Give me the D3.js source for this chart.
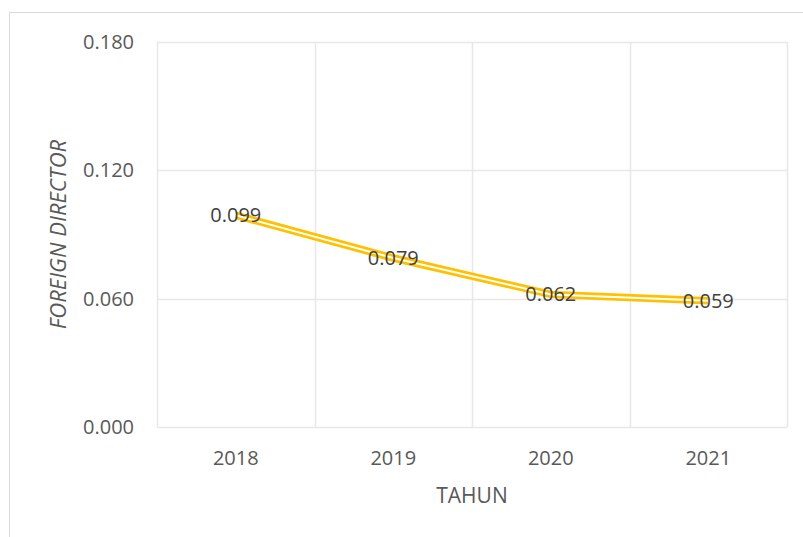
<!DOCTYPE html>
<html>
<head>
<meta charset="utf-8">
<script src="https://cdn.jsdelivr.net/npm/d3@7"></script>
<style>
  body { margin: 0; background: #fff; }
  text { font-family: "Open Sans", "Noto Sans", sans-serif; fill: #595959; }
</style>
</head>
<body>
<svg id="chart"></svg>
<script>
const years = ["2018", "2019", "2020", "2021"];
const values = [0.099, 0.079, 0.062, 0.059];
const labels = ["0.099", "0.079", "0.062", "0.059"];
const yTicks = [0, 0.06, 0.12, 0.18];

const width = 803, height = 537;
const margin = { top: 42, right: 16, bottom: 110, left: 157 };

const svg = d3.select("#chart")
  .attr("width", width)
  .attr("height", height);

// chart area border
svg.append("rect")
  .attr("x", 9.5).attr("y", 12.5)
  .attr("width", width).attr("height", height)
  .attr("fill", "#fff")
  .attr("stroke", "#d9d9d9");

const x = d3.scaleBand()
  .domain(years)
  .range([margin.left, width - margin.right]);

const y = d3.scaleLinear()
  .domain([0, 0.18])
  .range([height - margin.bottom, margin.top]);

const grid = svg.append("g").attr("class", "grid");

// horizontal gridlines
grid.selectAll(".hgrid")
  .data(yTicks)
  .enter()
  .append("line")
  .attr("x1", margin.left).attr("x2", width - margin.right)
  .attr("y1", (d) => Math.round(y(d)) + 0.5)
  .attr("y2", (d) => Math.round(y(d)) + 0.5)
  .attr("stroke", "#e8e8e8")
  .attr("stroke-width", 1.5);

// vertical gridlines at category boundaries
const bounds = years.map((d) => x(d)).concat([x.range()[1]]);
grid.selectAll(".vgrid")
  .data(bounds)
  .enter()
  .append("line")
  .attr("x1", (d) => Math.round(d) + 0.5).attr("x2", (d) => Math.round(d) + 0.5)
  .attr("y1", y(0.18)).attr("y2", y(0))
  .attr("stroke", "#e8e8e8")
  .attr("stroke-width", 1.5);

// y axis labels
const yAxis = svg.append("g")
  .attr("transform", "translate(" + (margin.left - 23) + ",0)")
  .call(d3.axisLeft(y).tickValues(yTicks).tickFormat(d3.format(".3f")).tickSize(0).tickPadding(0));
yAxis.select(".domain").remove();
yAxis.selectAll("text")
  .style("font-size", "20px")
  .attr("fill", "#595959");

// x axis labels
const xAxis = svg.append("g")
  .attr("transform", "translate(0," + (y(0) + 24) + ")")
  .call(d3.axisBottom(x).tickSize(0).tickPadding(0));
xAxis.select(".domain").remove();
xAxis.selectAll("text")
  .style("font-size", "20px")
  .attr("fill", "#595959")
  .attr("dy", "0.71em");

// axis titles
svg.append("text")
  .attr("x", (x.range()[0] + x.range()[1]) / 2)
  .attr("y", 503)
  .attr("text-anchor", "middle")
  .style("font-size", "21px")
  .text("TAHUN");

svg.append("text")
  .attr("transform", "translate(66," + (y(0.09)) + ") rotate(-90)")
  .attr("text-anchor", "middle")
  .style("font-size", "22px")
  .style("font-style", "italic")
  .text("FOREIGN DIRECTOR");

// double line
const line = d3.line()
  .x((d, i) => x(years[i]) + x.bandwidth() / 2)
  .y((d) => y(d));

svg.append("path")
  .datum(values)
  .attr("d", line)
  .attr("fill", "none")
  .attr("stroke", "#ffc000")
  .attr("stroke-width", 7.5);

svg.append("path")
  .datum(values)
  .attr("d", line)
  .attr("fill", "none")
  .attr("stroke", "#fff")
  .attr("stroke-width", 2);

// data labels
svg.append("g")
  .selectAll("text")
  .data(values)
  .enter()
  .append("text")
  .attr("x", (d, i) => x(years[i]) + x.bandwidth() / 2)
  .attr("y", (d) => y(d))
  .attr("dy", "0.35em")
  .attr("text-anchor", "middle")
  .style("font-size", "20px")
  .style("fill", "#404040")
  .text((d, i) => labels[i]);
</script>
</body>
</html>
